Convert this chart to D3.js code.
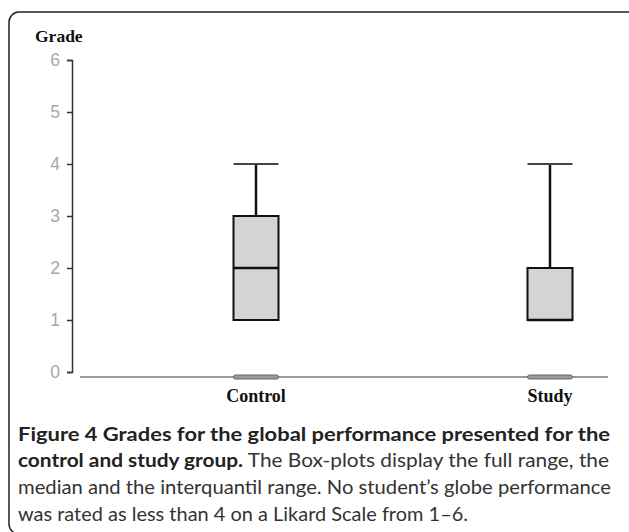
<!DOCTYPE html>
<html>
<head>
<meta charset="utf-8">
<script src="https://cdn.jsdelivr.net/npm/d3@7/dist/d3.min.js"></script>
<style>
  body { margin: 0; background: #fff; }
</style>
</head>
<body>
<script>
// Data
const categories = ["Control", "Study"];
const whiskerMax = [4, 4];
const q3 = [3, 2];
const median = [2, 1];
const q1 = [1, 1];
const yTicks = [0, 1, 2, 3, 4, 5, 6];

const captionBold1 = "Figure 4 Grades for the global performance presented for the";
const captionBold2 = "control and study group.";
const captionLines = [
  " The Box-plots display the full range, the",
  "median and the interquantil range. No student\u2019s globe performance",
  "was rated as less than 4 on a Likard Scale from 1\u20136."
];

const W = 629, H = 532;
const svg = d3.select("body").append("svg")
    .attr("width", W)
    .attr("height", H);

// Frame with rounded corners (runs off the right and bottom edge)
svg.append("rect")
    .attr("x", 9).attr("y", 12)
    .attr("width", 660).attr("height", 522)
    .attr("rx", 10)
    .attr("fill", "none")
    .attr("stroke", "#222")
    .attr("stroke-width", 1.5);

const y = d3.scaleLinear().domain([0, 6]).range([372, 60]);
const x = d3.scalePoint().domain(categories).range([256, 550]);
const boxW = 45;

// Axis title
svg.append("text")
    .attr("x", 35).attr("y", 42)
    .style("font-family", "'Liberation Serif', 'Times New Roman', serif")
    .style("font-weight", "bold")
    .style("font-size", "17.5px")
    .attr("fill", "#111")
    .text("Grade");

// Y axis
const yAxis = svg.append("g")
    .attr("transform", "translate(72,0)")
    .call(d3.axisLeft(y).tickValues(yTicks).tickFormat(d3.format("d"))
        .tickSize(5).tickPadding(7));
yAxis.attr("font-size", 17.5).attr("font-family", "'Liberation Sans', Arial, sans-serif");
yAxis.select(".domain").attr("stroke", "#333").attr("stroke-width", 1.5);
yAxis.selectAll(".tick line").attr("stroke", "#333").attr("stroke-width", 1.5);
yAxis.selectAll(".tick text").attr("fill", "#a8a8a8");

// Baseline
svg.append("line")
    .attr("x1", 80).attr("x2", 608)
    .attr("y1", 377).attr("y2", 377)
    .attr("stroke", "#777")
    .attr("stroke-width", 1.5);

const boxes = svg.selectAll(".box")
    .data(categories)
  .enter().append("g")
    .attr("class", "box")
    .attr("transform", d => "translate(" + x(d) + ",0)");

// small marker on the baseline
boxes.append("rect")
    .attr("x", -boxW / 2).attr("y", 375)
    .attr("width", boxW).attr("height", 4)
    .attr("rx", 2)
    .attr("fill", "#9a9a9a")
    .attr("stroke", "#666")
    .attr("stroke-width", 1);

// whisker stem
boxes.append("line")
    .attr("x1", 0).attr("x2", 0)
    .attr("y1", (d, i) => y(whiskerMax[i]))
    .attr("y2", (d, i) => y(q3[i]))
    .attr("stroke", "#111")
    .attr("stroke-width", 2.5);

// whisker cap
boxes.append("line")
    .attr("x1", -boxW / 2).attr("x2", boxW / 2)
    .attr("y1", (d, i) => y(whiskerMax[i]))
    .attr("y2", (d, i) => y(whiskerMax[i]))
    .attr("stroke", "#444")
    .attr("stroke-width", 2);

// box
boxes.append("rect")
    .attr("x", -boxW / 2)
    .attr("y", (d, i) => y(q3[i]))
    .attr("width", boxW)
    .attr("height", (d, i) => y(q1[i]) - y(q3[i]))
    .attr("fill", "#d4d4d4")
    .attr("stroke", "#111")
    .attr("stroke-width", 2);

// median
boxes.append("line")
    .attr("x1", -boxW / 2).attr("x2", boxW / 2)
    .attr("y1", (d, i) => y(median[i]))
    .attr("y2", (d, i) => y(median[i]))
    .attr("stroke", "#111")
    .attr("stroke-width", 2.5);

// category labels
boxes.append("text")
    .attr("y", 402)
    .attr("text-anchor", "middle")
    .style("font-family", "'Liberation Serif', 'Times New Roman', serif")
    .style("font-weight", "bold")
    .style("font-size", "18px")
    .attr("fill", "#111")
    .text(d => d);

// Caption (justified lines stretched to the column width)
const capFont = "Lato, 'Open Sans', sans-serif";
const capSize = "19px";

function capLine(yPos, target) {
    return svg.append("text")
        .attr("x", 18).attr("y", yPos)
        .attr("textLength", target).attr("lengthAdjust", "spacingAndGlyphs")
        .style("font-family", capFont).style("font-size", capSize)
        .attr("fill", "#333");
}

capLine(441, 592)
    .style("font-weight", "bold").attr("fill", "#222")
    .text(captionBold1);

const l2 = capLine(467, 591);
l2.append("tspan").style("font-weight", "bold").attr("fill", "#222").text(captionBold2);
l2.append("tspan").text(captionLines[0]);

capLine(494, 593).text(captionLines[1]);
capLine(521, 450).text(captionLines[2]);
</script>
</body>
</html>
